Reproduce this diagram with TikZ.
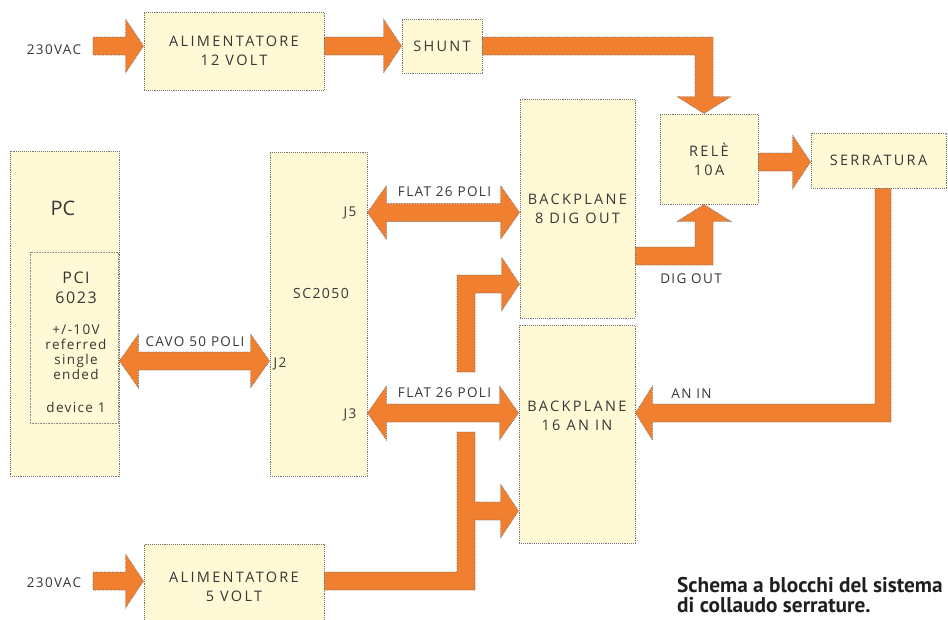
\documentclass[tikz,border=0pt]{standalone}
\usepackage{fontspec}
\setmainfont{Open Sans}
\newfontfamily\lblfam{Open Sans}[LetterSpace=10]
\newfontfamily\boxfam{Open Sans}[LetterSpace=16]
\newfontfamily\plainfam{Open Sans}
\newfontfamily\capfam{PT Sans}
\usetikzlibrary{calc}
\definecolor{arr}{RGB}{240,128,48}
\definecolor{boxfill}{RGB}{255,249,214}
\definecolor{txt}{RGB}{55,55,55}
\newcommand\lblfont{\lblfam\fontsize{13.5}{19}\selectfont}
\newcommand\boxfont{\boxfam\fontsize{14.5}{19}\selectfont}
\newcommand\smallfont{\lblfam\fontsize{13.5}{14.8}\selectfont}
\newcommand\fatRight[2]{%
 \filldraw[fat] ($(#1)+(0,-9)$) -- ($(#2 |- #1)+(-18,-9)$) -- ($(#2 |- #1)+(-18,-27)$) -- (#2 |- #1) -- ($(#2 |- #1)+(-18,27)$) -- ($(#2 |- #1)+(-18,9)$) -- ($(#1)+(0,9)$) -- cycle;}
\newcommand\fatBoth[3]{%
 \filldraw[fat] (#1 |- #3) -- ($(#1 |- #3)+(19,-27)$) -- ($(#1 |- #3)+(19,-9)$) -- ($(#2 |- #3)+(-19,-9)$) -- ($(#2 |- #3)+(-19,-27)$) -- (#2 |- #3) -- ($(#2 |- #3)+(-19,27)$) -- ($(#2 |- #3)+(-19,9)$) -- ($(#1 |- #3)+(19,9)$) -- ($(#1 |- #3)+(19,27)$) -- cycle;}
\begin{document}
\begin{tikzpicture}[x=1pt,y=-1pt,
  box/.style={draw=black!55, densely dotted, line width=0.9pt, fill=boxfill, inner sep=0pt, text=txt, align=center, font=\boxfont},
  inner/.style={draw=black!45, densely dotted, line width=0.6pt, inner sep=0pt},
  lbl/.style={inner sep=0pt, text=txt, align=center, font=\lblfont},
  fat/.style={fill=arr, draw=black!60, densely dotted, line width=0.6pt},
  captxt/.style={inner sep=0pt, anchor=north west, align=left, text=black!88, font=\capfam\bfseries\fontsize{21.3}{19.5}\selectfont}]
\useasboundingbox (0,0) rectangle (948,619);
% boxes
\node[box, minimum width=180pt, minimum height=78pt] (alim12) at (234,51) {ALIMENTATORE\\12 VOLT};
\node[box, minimum width=80pt, minimum height=54pt] (shunt) at (442,46) {SHUNT};
\node[box, minimum width=98pt, minimum height=90pt] (rele) at (709,159) {REL\`E\\10A};
\node[box, minimum width=135pt, minimum height=55pt] (serr) at (878.5,160.5) {SERRATURA};
\node[box, minimum width=115pt, minimum height=219pt] (bp8) at (577.5,208.5) {BACKPLANE\\8 DIG OUT};
\node[box, minimum width=116pt, minimum height=218pt] (bp16) at (577,434) {};
\node[lbl, font=\boxfont] (bp16t) at (577,416) {BACKPLANE\\16 AN IN};
\node[box, minimum width=109pt, minimum height=325pt] (pc) at (64.5,313.5) {};
\node[lbl, font=\plainfam\fontsize{20}{22}\selectfont] (pct) at (63,208) {PC};
\node[inner, minimum width=88pt, minimum height=171pt] (pci) at (74,337.5) {};
\node[lbl, font=\lblfam\fontsize{16}{20}\selectfont] (pcit) at (76,288) {PCI\\6023};
\node[lbl, font=\smallfont] (pcid) at (76,352) {+/-10V\\referred\\single\\ended};
\node[lbl, font=\smallfont] (dev) at (76,407) {device 1};
\node[box, minimum width=97pt, minimum height=324pt] (sc) at (318.5,314) {};
\node[lbl, font=\lblfam\fontsize{14}{19}\selectfont] (sct) at (321,293) {SC2050};
\node[lbl] (j5) at (350,213) {J5};
\node[lbl] (j2) at (280,364) {J2};
\node[lbl] (j3) at (350,415) {J3};
\node[box, minimum width=180pt, minimum height=86pt] (alim5) at (234,587) {ALIMENTATORE\\5 VOLT};
% coordinates
\coordinate (s1) at (93,46);
\coordinate (s2) at (93,581);
\coordinate (a12e) at (alim12.east |- s1);
\coordinate (k9) at (758,162);
\coordinate (re) at (rele.east |- k9);
\coordinate (k1) at (704,46);
\coordinate (t1) at (k1 |- rele.north);
\coordinate (k2) at (704,256);
\coordinate (t2) at (k2 |- rele.south);
\coordinate (k3) at (883,413);
\coordinate (t3) at (bp16.east |- k3);
\coordinate (k4) at (466,581);
\coordinate (k5) at (466,511);
\coordinate (k6) at (466,432);
\coordinate (t5) at (bp16.west |- k5);
\coordinate (k7) at (466,372);
\coordinate (k8) at (466,284);
\coordinate (t8) at (bp8.west |- k8);
\coordinate (c1) at (200,361);
\coordinate (f1) at (440,212.5);
\coordinate (f2) at (440,413);
% arrows
\fatRight{s1}{alim12.west}
\fatRight{a12e}{shunt.west}
\fatRight{re}{serr.west}
\fatRight{s2}{alim5.west}
\filldraw[fat] ($(shunt.east |- k1)+(0,-9)$) -- ($(k1)+(9,-9)$) -- ($(t1)+(9,-17)$) -- ($(t1)+(27,-17)$) -- (t1) -- ($(t1)+(-27,-17)$) -- ($(t1)+(-9,-17)$) -- ($(k1)+(-9,9)$) -- ($(shunt.east |- k1)+(0,9)$) -- cycle;
\filldraw[fat] ($(bp8.east |- k2)+(0,-9)$) -- ($(k2)+(-9,-9)$) -- ($(t2)+(-9,17)$) -- ($(t2)+(-27,17)$) -- (t2) -- ($(t2)+(27,17)$) -- ($(t2)+(9,17)$) -- ($(k2)+(9,9)$) -- ($(bp8.east |- k2)+(0,9)$) -- cycle;
\filldraw[fat] ($(k3 |- serr.south)+(-8,0)$) -- ($(k3)+(-8,-9)$) -- ($(t3)+(17,-9)$) -- ($(t3)+(17,-27)$) -- (t3) -- ($(t3)+(17,27)$) -- ($(t3)+(17,9)$) -- ($(k3)+(8,9)$) -- ($(k3 |- serr.south)+(8,0)$) -- cycle;
\filldraw[fat] ($(alim5.east |- k4)+(0,-9)$) -- ($(k4)+(-9,-9)$) -- ($(k6)+(-9,0)$) -- ($(k6)+(9,0)$) -- ($(k5)+(9,-9)$) -- ($(t5)+(-18,-9)$) -- ($(t5)+(-18,-27)$) -- (t5) -- ($(t5)+(-18,27)$) -- ($(t5)+(-18,9)$) -- ($(k5)+(9,9)$) -- ($(k4)+(9,9)$) -- ($(alim5.east |- k4)+(0,9)$) -- cycle;
\filldraw[fat] ($(k7)+(-9,0)$) -- ($(k8)+(-9,-9)$) -- ($(t8)+(-18,-9)$) -- ($(t8)+(-18,-27)$) -- (t8) -- ($(t8)+(-18,27)$) -- ($(t8)+(-18,9)$) -- ($(k8)+(9,9)$) -- ($(k7)+(9,0)$) -- cycle;
\fatBoth{pc.east}{sc.west}{c1}
\fatBoth{sc.east}{bp8.west}{f1}
\fatBoth{sc.east}{bp16.west}{f2}
% labels
\node[lbl] (v1) at (54,50) {230VAC};
\node[lbl] (v2) at (54,583) {230VAC};
\node[lbl] (cavo) at (195,342) {CAVO 50 POLI};
\node[lbl] (flat1) at (444.5,192) {FLAT 26 POLI};
\node[lbl] (flat2) at (444.5,393) {FLAT 26 POLI};
\node[lbl] (dig) at (691,279) {DIG OUT};
\node[lbl] (anin) at (691.5,394) {AN IN};
\node[captxt] (cap) at (677,577.5) {Schema a blocchi del sistema\\di collaudo serrature.};
\end{tikzpicture}
\end{document}
